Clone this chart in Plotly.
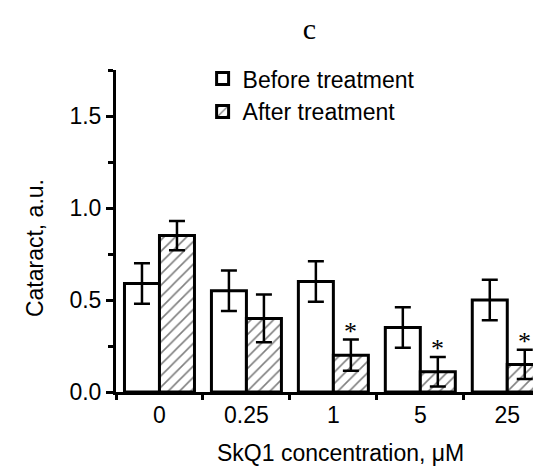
import plotly.graph_objects as go

# concentrations of SkQ1, uM
categories = ["0", "0.25", "1", "5", "25"]

before_vals = [0.59, 0.55, 0.60, 0.35, 0.50]
before_err = [0.11, 0.11, 0.11, 0.11, 0.11]

after_vals = [0.85, 0.40, 0.20, 0.11, 0.15]
after_err = [0.08, 0.13, 0.085, 0.08, 0.08]

# groups marked as significant after treatment
signif = ["1", "5", "25"]

FONT = "Liberation Sans, Arial, sans-serif"
SERIF = "Liberation Serif, Times New Roman, serif"

fig = go.Figure()

fig.add_trace(go.Bar(
    x=categories, y=before_vals, name="Before treatment",
    marker=dict(color="white", line=dict(color="black", width=3)),
    error_y=dict(type="data", array=before_err, color="black", thickness=2.5, width=8),
))
fig.add_trace(go.Bar(
    x=categories, y=after_vals, name="After treatment",
    marker=dict(color="white", line=dict(color="black", width=3),
                pattern=dict(shape="/", fgcolor="black", bgcolor="white", size=8, solidity=0.2)),
    error_y=dict(type="data", array=after_err, color="black", thickness=2.5, width=8),
))

# asterisks above the error bars (x given as category index)
for i, (cat, v, e) in enumerate(zip(categories, after_vals, after_err)):
    if cat in signif:
        fig.add_annotation(
            x=i, y=v + e, xshift=17.5, text="*", showarrow=False,
            yanchor="bottom", yshift=-8,
            font=dict(family=SERIF, size=26, color="black"),
        )

# axis titles as annotations, so they sit where the original has them
fig.add_annotation(
    text="Cataract, a.u.", textangle=-90, showarrow=False,
    xref="paper", yref="paper", x=-0.187, y=0.447,
    xanchor="center", yanchor="middle", font=dict(size=23),
)
fig.add_annotation(
    text="SkQ1 concentration, μM", showarrow=False,
    xref="paper", yref="paper", x=0.518, y=-0.19,
    xanchor="center", yanchor="middle", font=dict(size=23),
)

fig.update_layout(
    width=541, height=466,
    margin=dict(l=108, r=0, t=62, b=82),
    paper_bgcolor="white", plot_bgcolor="white",
    barmode="group", bargap=0.195, bargroupgap=0,
    font=dict(family=FONT, size=23, color="black"),
    title=dict(text="c", x=0.557, xanchor="center", y=0.957, yanchor="middle",
               font=dict(family=SERIF, size=30)),
    legend=dict(x=0.2, y=1.04, xanchor="left", yanchor="top",
                bgcolor="rgba(0,0,0,0)", font=dict(size=23), tracegroupgap=0,
                itemwidth=30),
    showlegend=True,
)

fig.update_xaxes(
    showline=True, linecolor="black", linewidth=3,
    ticks="outside", ticklen=5, tickwidth=2.5, tickcolor="black",
    tickson="boundaries", range=[-0.5, 4.48], automargin=False,
    showgrid=False, zeroline=False,
)
fig.update_yaxes(
    range=[0, 1.75], tickvals=[0, 0.5, 1.0, 1.5], tickformat=".1f",
    showline=True, linecolor="black", linewidth=3, automargin=False,
    ticks="outside", ticklen=7, tickwidth=2.5, tickcolor="black",
    minor=dict(tickvals=[0.25, 0.75, 1.25, 1.75], ticks="outside", ticklen=5, tickwidth=2.5, tickcolor="black"),
    showgrid=False, zeroline=False,
)

fig.write_html("out.html")
